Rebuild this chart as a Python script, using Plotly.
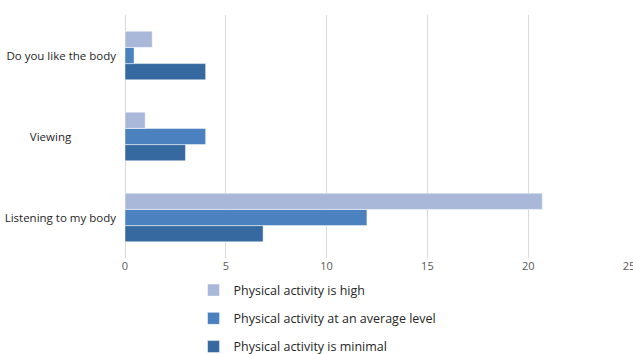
import plotly.graph_objects as go

categories = ["Listening to my body", "Viewing", "Do you like the body"]
category_labels = ["Listening to my body", "Viewing" + "\u00a0" * 15, "Do you like the body"]
series_names = ["Physical activity is minimal", "Physical activity at an average level", "Physical activity is high"]
minimal = [6.85, 3.0, 4.0]
average = [12.0, 4.0, 0.45]
high = [20.7, 1.0, 1.35]
colors = ["#36699f", "#4a81be", "#a9b8d9"]
legend_ranks = [3, 2, 1]
x_ticks = [0, 5, 10, 15, 20, 25]

fig = go.Figure()
for name, vals, col, rank in zip(series_names, [minimal, average, high], colors, legend_ranks):
    fig.add_trace(go.Bar(
        y=categories, x=vals, name=name, orientation="h",
        marker=dict(color=col, line=dict(color="rgba(255,255,255,0.6)", width=0.8)),
        legendgroup=name, legendrank=rank,
    ))

fig.update_layout(
    width=633, height=354,
    margin=dict(l=125, r=4, t=15, b=96, autoexpand=False),
    barmode="group", bargap=0.4, bargroupgap=0,
    plot_bgcolor="white", paper_bgcolor="white",
    font=dict(family="Open Sans, Noto Sans, sans-serif", size=11, color="#595959"),
    showlegend=True,
    legend=dict(
        x=0.136, y=-0.072,
        xanchor="left", yanchor="top", traceorder="grouped",
        font=dict(size=12.5, color="#262626"),
        tracegroupgap=9, itemwidth=30,
        bgcolor="rgba(0,0,0,0)",
    ),
    xaxis=dict(
        range=[0, 25], tickvals=x_ticks, showgrid=True, gridcolor="#d9d9d9",
        gridwidth=1, zeroline=True, zerolinecolor="#d9d9d9", zerolinewidth=1,
        showline=False, ticks="", tickfont=dict(size=11, color="#595959"),
        automargin=False, ticklabeloverflow="allow",
    ),
    yaxis=dict(
        showgrid=False, showline=False, ticks="", ticklabelstandoff=8,
        tickvals=categories, ticktext=category_labels,
        tickfont=dict(size=11.5, color="#262626"), automargin=False,
    ),
)

fig.write_html("out.html")
